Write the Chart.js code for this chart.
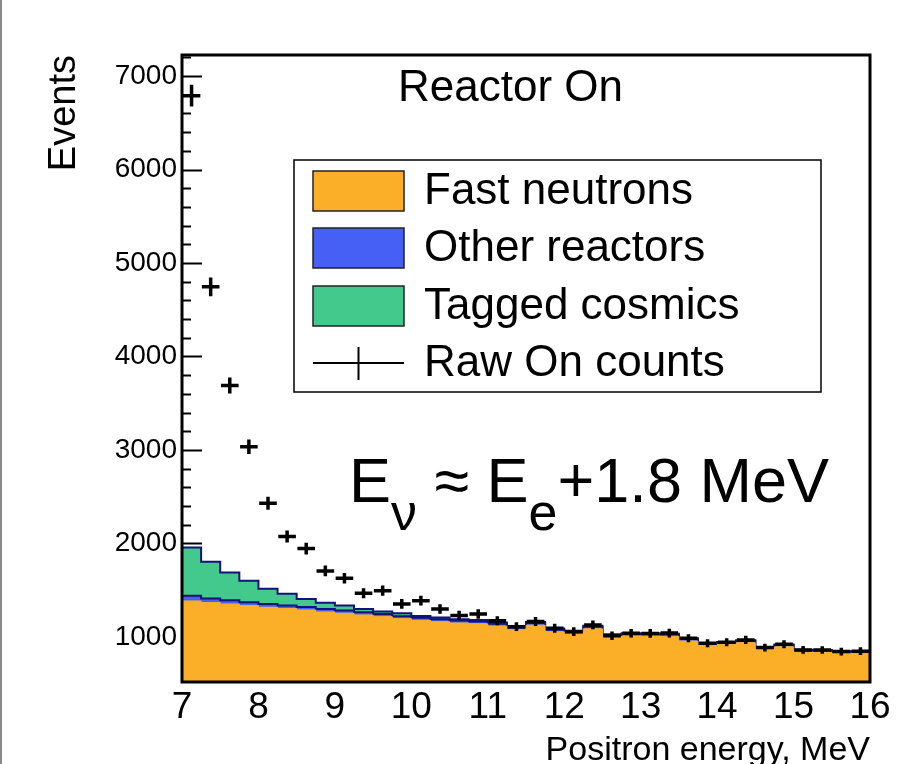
<!DOCTYPE html>
<html>
<head>
<meta charset="utf-8">
<script src="https://cdn.jsdelivr.net/npm/chart.js@4.4.1/dist/chart.umd.min.js"></script>
<style>
  html, body { margin: 0; padding: 0; background: #fff; }
  #wrap { position: relative; width: 897px; height: 764px; overflow: hidden; }
  #edge { position: absolute; left: 0; top: 0; width: 2px; height: 764px; background: #8a8a8a; }
</style>
</head>
<body>
<div id="wrap">
  <canvas id="chartCanvas" width="897" height="764"></canvas>
  <div id="edge"></div>
</div>
<script>
// Positron energy bins (low edges, MeV), 0.25 MeV wide
const binLow = [7.00, 7.25, 7.50, 7.75, 8.00, 8.25, 8.50, 8.75, 9.00, 9.25, 9.50, 9.75,
                10.00, 10.25, 10.50, 10.75, 11.00, 11.25, 11.50, 11.75, 12.00, 12.25, 12.50, 12.75,
                13.00, 13.25, 13.50, 13.75, 14.00, 14.25, 14.50, 14.75, 15.00, 15.25, 15.50, 15.75];
const binWidth = 0.25;

// stacked backgrounds, events per bin
const fastNeutrons  = [1385, 1367, 1353, 1335, 1317, 1303, 1289, 1267, 1253, 1235, 1217, 1195,
                       1178, 1163, 1149, 1140, 1117, 1078, 1125, 1055, 1027, 1087, 999, 1009,
                       1009, 1006, 956, 907, 918, 938, 864, 894, 837, 836, 821, 824];
const otherReactors = [55, 45, 40, 37, 35, 33, 32, 31, 30, 29, 28, 27,
                       27, 26, 26, 25, 25, 24, 24, 23, 23, 23, 22, 22,
                       22, 21, 21, 21, 20, 20, 20, 20, 19, 19, 19, 19];
const taggedCosmics = [518, 393, 297, 230, 163, 126, 84, 67, 52, 36, 26, 31,
                       20, 18, 15, 15, 13, 13, 11, 12, 10, 10, 9, 9,
                       9, 8, 8, 7, 7, 7, 6, 6, 6, 5, 5, 5];

// raw reactor-on counts and their errors
const rawOnCounts = [6790, 4745, 3690, 3035, 2430, 2075, 1945, 1706, 1628, 1467, 1495, 1353,
                     1388, 1299, 1230, 1245, 1174, 1110, 1164, 1093, 1057, 1128, 1012, 1040,
                     1038, 1041, 986, 932, 943, 968, 886, 922, 861, 860, 843, 848];
const rawOnErrors = [116, 100, 86, 78, 70, 64, 62, 58, 57, 54, 55, 52,
                     53, 51, 50, 50, 48, 47, 48, 47, 46, 47, 45, 46,
                     46, 46, 44, 43, 43, 44, 42, 43, 41, 41, 41, 41];

const xTicks = [7, 8, 9, 10, 11, 12, 13, 14, 15, 16];
const yTicks = [1000, 2000, 3000, 4000, 5000, 6000, 7000];

const FONT = '"Liberation Sans", Arial, Helvetica, sans-serif';
Chart.defaults.font.family = FONT;
Chart.defaults.color = '#000';

// step outline: one point per low edge plus the closing upper edge
function stepPoints(values) {
  const pts = binLow.map((x, i) => ({ x: x, y: values[i] }));
  pts.push({ x: binLow[binLow.length - 1] + binWidth, y: values[values.length - 1] });
  return pts;
}

const rootDecor = {
  id: 'rootDecor',
  beforeDatasetsDraw(chart) {
    // inward y ticks, hidden later by the filled histograms
    const { ctx, chartArea: a, scales: { y } } = chart;
    ctx.save();
    ctx.strokeStyle = '#000';
    ctx.lineWidth = 2;
    for (let v = 600; v <= 7200; v += 200) {
      const py = Math.round(y.getPixelForValue(v)) + 0.5;
      const len = v % 1000 === 0 ? 20 : 9;
      ctx.beginPath();
      ctx.moveTo(a.left, py);
      ctx.lineTo(a.left + len, py);
      ctx.stroke();
    }
    ctx.restore();
  },
  afterDatasetsDraw(chart) {
    const { ctx, chartArea: a, scales: { x, y } } = chart;
    ctx.save();
    // error crosses for raw counts
    ctx.strokeStyle = '#000';
    ctx.lineWidth = 3.5;
    binLow.forEach((lo, i) => {
      const c = lo + binWidth / 2;
      const px = x.getPixelForValue(c);
      const py = y.getPixelForValue(rawOnCounts[i]);
      ctx.beginPath();
      ctx.moveTo(x.getPixelForValue(c - 0.115), py);
      ctx.lineTo(x.getPixelForValue(c + 0.115), py);
      ctx.moveTo(px, y.getPixelForValue(rawOnCounts[i] + rawOnErrors[i]));
      ctx.lineTo(px, y.getPixelForValue(rawOnCounts[i] - rawOnErrors[i]));
      ctx.stroke();
    });
    // frame
    ctx.lineWidth = 3;
    ctx.strokeRect(a.left, a.top, a.right - a.left, a.bottom - a.top);
    ctx.restore();
  },
  afterDraw(chart) {
    const { ctx } = chart;
    const ds = chart.data.datasets;
    ctx.save();

    // legend
    ctx.fillStyle = '#fff';
    ctx.fillRect(294, 160, 527, 232);
    ctx.strokeStyle = '#000';
    ctx.lineWidth = 1.5;
    ctx.strokeRect(294, 160, 527, 232);

    const rowY = [191, 248, 306, 363];
    ctx.font = '44px ' + FONT;
    ctx.textBaseline = 'middle';
    ctx.textAlign = 'left';
    [0, 1, 2].forEach((k, r) => {
      ctx.fillStyle = ds[k].backgroundColor;
      ctx.fillRect(313, rowY[r] - 20, 91, 40);
      ctx.strokeStyle = '#222';
      ctx.lineWidth = 1.5;
      ctx.strokeRect(313, rowY[r] - 20, 91, 40);
      ctx.fillStyle = '#000';
      ctx.fillText(ds[k].label, 424, rowY[r] + 1);
    });
    ctx.strokeStyle = '#000';
    ctx.lineWidth = 2;
    ctx.beginPath();
    ctx.moveTo(313, rowY[3]);
    ctx.lineTo(404, rowY[3]);
    ctx.moveTo(358.5, rowY[3] - 16);
    ctx.lineTo(358.5, rowY[3] + 17);
    ctx.stroke();
    ctx.fillStyle = '#000';
    ctx.fillText(ds[3].label, 424, rowY[3] + 1);

    // panel title
    ctx.textBaseline = 'alphabetic';
    ctx.fillText('Reactor On', 398, 101);

    // energy relation
    const big = '63px ' + FONT, sub = '52px ' + FONT;
    let cx = 349;
    const piece = (t, f, base) => { ctx.font = f; ctx.fillText(t, cx, base); cx += ctx.measureText(t).width; };
    piece('E', big, 502);
    piece('\u03BD', sub, 530);
    piece(' \u2248 ', big, 502);
    piece('E', big, 502);
    piece('e', sub, 530);
    piece('+1.8 MeV', big, 502);
    ctx.restore();
  }
};

new Chart(document.getElementById('chartCanvas'), {
  type: 'line',
  data: {
    datasets: [
      {
        label: 'Fast neutrons',
        data: stepPoints(fastNeutrons),
        stack: 'bkg',
        stepped: true,
        fill: 'start',
        backgroundColor: '#fbae28',
        borderColor: '#fbae28',
        borderWidth: 1,
        pointRadius: 0
      },
      {
        label: 'Other reactors',
        data: stepPoints(otherReactors),
        stack: 'bkg',
        stepped: true,
        fill: '-1',
        backgroundColor: '#4660f5',
        borderColor: '#12127a',
        borderWidth: 2,
        pointRadius: 0
      },
      {
        label: 'Tagged cosmics',
        data: stepPoints(taggedCosmics),
        stack: 'bkg',
        stepped: true,
        fill: '-1',
        backgroundColor: '#43c98b',
        borderColor: '#12127a',
        borderWidth: 2,
        pointRadius: 0
      },
      {
        type: 'scatter',
        label: 'Raw On counts',
        data: binLow.map((lo, i) => ({ x: lo + binWidth / 2, y: rawOnCounts[i] })),
        stack: 'raw',
        showLine: false,
        pointRadius: 0,
        borderColor: '#000',
        backgroundColor: '#000'
      }
    ]
  },
  options: {
    responsive: false,
    animation: false,
    events: [],
    layout: { padding: { top: 55, right: 27, left: 0, bottom: 0 } },
    plugins: {
      legend: { display: false },
      tooltip: { enabled: false },
      title: { display: false }
    },
    scales: {
      x: {
        type: 'linear',
        min: 7,
        max: 16,
        grid: { display: false, drawTicks: false },
        border: { display: false },
        afterBuildTicks: (s) => { s.ticks = xTicks.map(v => ({ value: v })); },
        afterFit: (s) => { s.height = 82; },
        ticks: { font: { size: 37, lineHeight: 1.1 }, padding: 5, maxRotation: 0 },
        title: {
          display: true,
          text: 'Positron energy, MeV',
          align: 'end',
          font: { size: 34, lineHeight: 0.8 },
          padding: { top: 0, bottom: 0 }
        }
      },
      y: {
        type: 'linear',
        stacked: true,
        min: 518,
        max: 7225,
        grid: { display: false, drawTicks: false },
        border: { display: false },
        afterBuildTicks: (s) => { s.ticks = yTicks.map(v => ({ value: v })); },
        afterFit: (s) => { s.width = 182; },
        ticks: {
          font: { size: 28 },
          padding: 5,
          callback: (v) => String(v)
        },
        title: {
          display: true,
          text: 'Events',
          align: 'end',
          font: { size: 38 },
          padding: { top: 42, bottom: 0 }
        }
      }
    }
  },
  plugins: [rootDecor]
});
</script>
</body>
</html>
